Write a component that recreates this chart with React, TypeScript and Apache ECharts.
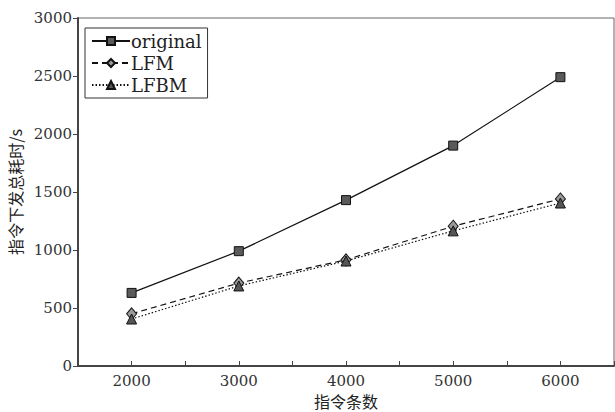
import React, { useEffect, useRef } from "react";
import * as echarts from "echarts";

const xValues = [2000, 3000, 4000, 5000, 6000];
const originalValues = [630, 990, 1430, 1900, 2490];
const lfmValues = [450, 715, 915, 1205, 1440];
const lfbmValues = [405, 690, 905, 1165, 1405];
const seriesNames = ["original", "LFM", "LFBM"];

const serif = "DejaVu Serif";
const cjk = "Noto Sans CJK SC";

export default function App() {
  const ref = useRef<HTMLDivElement>(null);
  useEffect(() => {
    if (!ref.current) return;
    const chart = echarts.init(ref.current, null, { renderer: "svg" });
    const pair = (vals: number[]) => xValues.map((x, i) => [x, vals[i]]);
    chart.setOption({
      animation: false,
      backgroundColor: "#fff",
      grid: {
        left: 78,
        top: 18,
        right: 1,
        bottom: 46,
        containLabel: false,
        outerBoundsMode: "none",
        show: true,
        borderColor: "#666",
        borderWidth: 1,
      },
      legend: {
        left: 85,
        top: 28,
        orient: "vertical",
        borderColor: "#333",
        borderWidth: 1,
        borderRadius: 0,
        padding: [4, 6, 4, 6],
        itemGap: 4,
        itemWidth: 38,
        itemHeight: 10,
        textStyle: { fontFamily: serif, fontSize: 18, color: "#222", padding: [0, 0, 0, -4] },
        data: seriesNames,
      },
      xAxis: {
        type: "value",
        min: 1500,
        max: 6500,
        interval: 500,
        name: "指令条数",
        nameLocation: "middle",
        nameGap: 22,
        nameTextStyle: { fontFamily: cjk, fontSize: 16, color: "#222" },
        axisLine: { show: true, lineStyle: { color: "#444", width: 2 } },
        axisTick: {
          show: true,
          inside: true,
          length: 5,
          lineStyle: { color: "#444" },
          interval: (idx: number, v: any) => Number(v) % 1000 === 0,
        },
        axisLabel: {
          fontFamily: serif,
          fontSize: 15,
          color: "#333",
          margin: 7,
          formatter: (v: number) => (v % 1000 === 0 && v >= 2000 && v <= 6000 ? String(v) : ""),
        },
        splitLine: { show: false },
      },
      yAxis: {
        type: "value",
        min: 0,
        max: 3000,
        interval: 500,
        name: "指令下发总耗时/s",
        nameLocation: "middle",
        nameGap: 54,
        nameRotate: 90,
        nameTextStyle: { fontFamily: cjk, fontSize: 16, color: "#222" },
        axisLine: { show: true, lineStyle: { color: "#444", width: 2 } },
        axisTick: { show: true, inside: false, length: 5, lineStyle: { color: "#444" } },
        axisLabel: {
          fontFamily: serif,
          fontSize: 15,
          color: "#333",
          margin: 6,
          formatter: (v: number) => String(v),
        },
        splitLine: { show: false },
      },
      series: [
        {
          name: "original",
          type: "line",
          data: pair(originalValues),
          symbol: "rect",
          symbolSize: 9,
          lineStyle: { color: "#111", width: 1.2, type: "solid" },
          itemStyle: { color: "#5a5a5a", borderColor: "#111", borderWidth: 1 },
        },
        {
          name: "LFM",
          type: "line",
          data: pair(lfmValues),
          symbol: "diamond",
          symbolSize: [10, 12],
          lineStyle: { color: "#111", width: 1.2, type: [6, 4] },
          itemStyle: { color: "#9a9a9a", borderColor: "#111", borderWidth: 1 },
        },
        {
          name: "LFBM",
          type: "line",
          data: pair(lfbmValues),
          symbol: "triangle",
          symbolSize: 10,
          lineStyle: { color: "#111", width: 1.2, type: [1.5, 2] },
          itemStyle: { color: "#555", borderColor: "#111", borderWidth: 1 },
        },
      ],
    });
    return () => chart.dispose();
  }, []);
  return (
    <div
      ref={ref}
      style={{ position: "absolute", left: 0, top: 0, width: 615, height: 412 }}
    />
  );
}
